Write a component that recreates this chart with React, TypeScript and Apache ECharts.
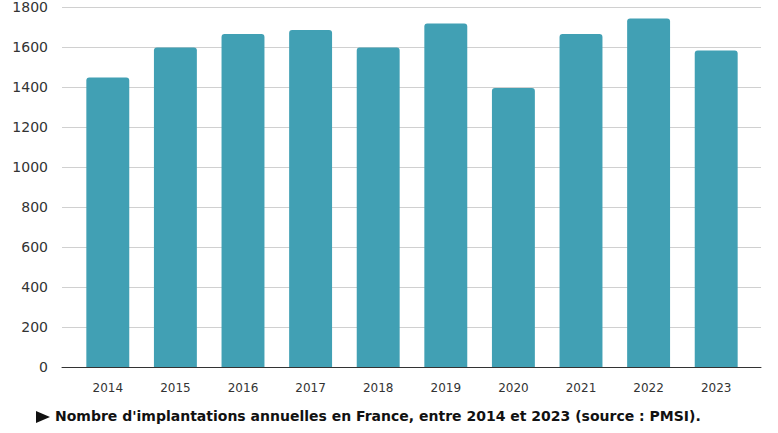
import React, { useEffect, useRef } from "react";
import * as echarts from "echarts";

const years = ["2014", "2015", "2016", "2017", "2018", "2019", "2020", "2021", "2022", "2023"];
const implantations = [1448, 1598, 1665, 1685, 1598, 1717, 1395, 1665, 1743, 1583];
const yMin = 0;
const yMax = 1800;
const yStep = 200;
const caption = "Nombre d'implantations annuelles en France, entre 2014 et 2023 (source : PMSI).";

export default function App() {
  const ref = useRef<HTMLDivElement>(null);
  useEffect(() => {
    if (!ref.current) return;
    const chart = echarts.init(ref.current, undefined, { renderer: "svg" });
    const font = "'DejaVu Sans', 'Noto Sans', sans-serif";
    chart.setOption({
      animation: false,
      textStyle: { fontFamily: font },
      grid: [
        { left: 62, right: 17, top: 7, bottom: 66 },
        { left: 74, right: 28, top: 7, bottom: 66 },
      ],
      xAxis: [
        {
          gridIndex: 0,
          type: "category",
          data: years,
          axisLine: { lineStyle: { color: "#333", width: 1 } },
          axisTick: { show: false },
          axisLabel: { show: false },
          z: 5,
        },
        {
          gridIndex: 1,
          type: "category",
          data: years,
          axisLine: { show: false },
          axisTick: { show: false },
          axisLabel: { color: "#333", fontSize: 12, margin: 15, fontFamily: font },
        },
      ],
      yAxis: [
        {
          gridIndex: 0,
          type: "value",
          min: yMin,
          max: yMax,
          interval: yStep,
          axisLine: { show: false },
          axisTick: { show: false },
          axisLabel: { color: "#333", fontSize: 14, margin: 14, fontFamily: font, formatter: (v: number) => String(v) },
          splitLine: { lineStyle: { color: "#d0d0d0", width: 1 } },
        },
        {
          gridIndex: 1,
          type: "value",
          min: yMin,
          max: yMax,
          interval: yStep,
          axisLine: { show: false },
          axisTick: { show: false },
          axisLabel: { show: false },
          splitLine: { show: false },
        },
      ],
      series: [
        {
          type: "bar",
          xAxisIndex: 1,
          yAxisIndex: 1,
          data: implantations,
          barWidth: "63.5%",
          itemStyle: { color: "#41a0b4", borderRadius: [3, 3, 0, 0] },
        },
      ],
      graphic: [
        {
          type: "polygon",
          shape: { points: [[36, 411], [36, 423], [50, 417]] },
          style: { fill: "#111" },
        },
        {
          type: "text",
          left: 55,
          top: 409,
          style: {
            text: caption,
            fill: "#111",
            font: `bold 14px ${font}`,
          },
        },
      ],
    });
    return () => chart.dispose();
  }, []);
  return <div ref={ref} style={{ width: 778, height: 433, position: "absolute", left: 0, top: 0 }} />;
}
